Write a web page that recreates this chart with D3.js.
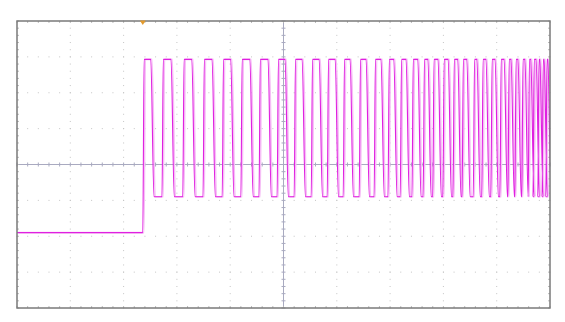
<!DOCTYPE html>
<html>
<head>
<meta charset="utf-8">
<script src="https://cdn.jsdelivr.net/npm/d3@7"></script>
<style>
  body { margin: 0; background: #fff; }
  svg { display: block; }
</style>
</head>
<body>
<svg id="scope" width="565" height="322"></svg>
<script>
// screen is 10 x 8 divisions, time in div from left edge, volts in div from centre
const xGrid = [0, 1, 2, 3, 4, 5, 6, 7, 8, 9, 10];
const yGrid = [-4, -3, -2, -1, 0, 1, 2, 3, 4];

// levels (div)
const baseLevel = -1.9;
const highLevel = 2.93;
const lowLevel = -0.9;
const triggerTime = 2.36;

// rising / falling edges of the chirped square wave (div)
const riseTimes = [2.36, 2.72, 3.11, 3.49, 3.85, 4.20, 4.54, 4.88, 5.20, 5.52,
  5.82, 6.12, 6.42, 6.70, 6.96, 7.19, 7.41, 7.62, 7.80, 7.99,
  8.18, 8.35, 8.56, 8.72, 8.89, 9.06, 9.21, 9.34, 9.47, 9.59,
  9.68, 9.77, 9.85, 9.92];
const fallTimes = [2.51, 2.89, 3.28, 3.66, 4.01, 4.37, 4.71, 5.03, 5.35, 5.67,
  5.97, 6.25, 6.55, 6.83, 7.07, 7.30, 7.52, 7.71, 7.90, 8.09,
  8.27, 8.44, 8.63, 8.80, 8.97, 9.14, 9.27, 9.40, 9.53, 9.64,
  9.74, 9.81, 9.89, 9.96];

const margin = { top: 21, left: 17, right: 15, bottom: 14 };
const width = 565 - margin.left - margin.right;
const height = 322 - margin.top - margin.bottom;

const svg = d3.select("#scope");

const x = d3.scaleLinear().domain([0, 10]).range([margin.left, margin.left + width]);
const y = d3.scaleLinear().domain([-4, 4]).range([margin.top + height, margin.top]);

const minorX = d3.range(0, 10.001, 0.2);
const minorY = d3.range(-4, 4.001, 0.2);

svg.append("clipPath").attr("id", "screen")
  .append("rect")
  .attr("x", x(0)).attr("y", y(4))
  .attr("width", x(10) - x(0)).attr("height", y(-4) - y(4));

// dotted graticule
const grid = svg.append("g").attr("fill", "#c4c4c4");
xGrid.filter(d => d > 0 && d < 10 && d != 5).forEach(gx => {
  grid.selectAll(null)
    .data(minorY)
    .enter().append("rect")
    .attr("x", x(gx) - 0.5).attr("y", d => y(d) - 0.5)
    .attr("width", 1).attr("height", 1);
});
yGrid.filter(d => d > -4 && d < 4 && d != 0).forEach(gy => {
  grid.selectAll(null)
    .data(minorX)
    .enter().append("rect")
    .attr("x", d => x(d) - 0.5).attr("y", y(gy) - 0.5)
    .attr("width", 1).attr("height", 1);
});

// centre axes with minor ticks
const axisColor = "#a9aac0";
svg.append("line")
  .attr("x1", x(0)).attr("x2", x(10))
  .attr("y1", y(0)).attr("y2", y(0))
  .attr("stroke", axisColor).attr("stroke-width", 1);
svg.append("line")
  .attr("x1", x(5)).attr("x2", x(5))
  .attr("y1", y(4)).attr("y2", y(-4))
  .attr("stroke", axisColor).attr("stroke-width", 1);

svg.append("g").selectAll("line")
  .data(minorX)
  .enter().append("line")
  .attr("x1", d => x(d)).attr("x2", d => x(d))
  .attr("y1", y(0) - 2).attr("y2", y(0) + 2)
  .attr("stroke", axisColor);
svg.append("g").selectAll("line")
  .data(minorY)
  .enter().append("line")
  .attr("x1", x(5) - 2).attr("x2", x(5) + 2)
  .attr("y1", d => y(d)).attr("y2", d => y(d))
  .attr("stroke", axisColor);

// ticks along the frame
const frameColor = "#7a7a7a";
const edgeTicks = svg.append("g").attr("stroke", "#bcbcbc");
edgeTicks.selectAll(".tt").data(minorX).enter().append("line")
  .attr("x1", d => x(d)).attr("x2", d => x(d))
  .attr("y1", y(4)).attr("y2", y(4) + 2);
edgeTicks.selectAll(".tb").data(minorX).enter().append("line")
  .attr("x1", d => x(d)).attr("x2", d => x(d))
  .attr("y1", y(-4)).attr("y2", y(-4) - 2);
edgeTicks.selectAll(".tl").data(minorY).enter().append("line")
  .attr("x1", x(0)).attr("x2", x(0) + 2)
  .attr("y1", d => y(d)).attr("y2", d => y(d));
edgeTicks.selectAll(".tr").data(minorY).enter().append("line")
  .attr("x1", x(10)).attr("x2", x(10) - 2)
  .attr("y1", d => y(d)).attr("y2", d => y(d));

// build the trace from the edge lists
const riseEdge = 0.025, fallEdge = 0.06;
var pts = [[0, baseLevel], [riseTimes[0], baseLevel]];
riseTimes.forEach(function(r, i) {
  var f = fallTimes[i];
  pts.push([r + riseEdge, highLevel]);
  pts.push([f, highLevel]);
  pts.push([f + fallEdge, lowLevel]);
  var next = riseTimes[i + 1];
  if (next !== undefined) pts.push([next, lowLevel]);
  else pts.push([10, lowLevel]);
});

const line = d3.line()
  .x(d => x(d[0]))
  .y(d => y(d[1]))
  .curve(d3.curveMonotoneX);

const trace = svg.append("g").attr("clip-path", "url(#screen)");
trace.append("path")
  .datum(pts)
  .attr("d", line)
  .attr("fill", "none")
  .attr("stroke", "#f6bff6")
  .attr("stroke-width", 1.6)
  .attr("transform", "translate(1.2,0)");
trace.append("path")
  .datum(pts)
  .attr("d", line)
  .attr("fill", "none")
  .attr("stroke", "#e020e0")
  .attr("stroke-width", 1.1);

// frame
svg.append("rect")
  .attr("x", x(0)).attr("y", y(4))
  .attr("width", x(10) - x(0)).attr("height", y(-4) - y(4))
  .attr("fill", "none")
  .attr("stroke", frameColor)
  .attr("stroke-width", 1.5);

// trigger position marker
const tx = x(triggerTime);
svg.append("path")
  .attr("d", d3.line()([[tx - 3, y(4) - 0.5], [tx + 3, y(4) - 0.5], [tx, y(4) + 4]]) + "Z")
  .attr("fill", "#e39a2c");
</script>
</body>
</html>
